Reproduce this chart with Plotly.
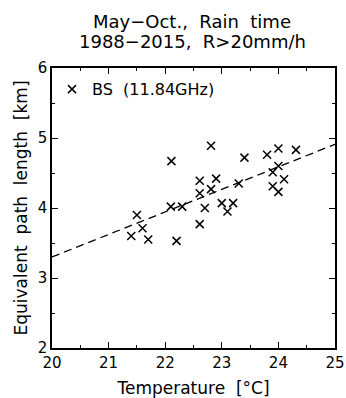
import plotly.graph_objects as go

# Data
temperature = [21.40, 21.50, 21.60, 21.70, 22.11, 22.10, 22.20, 22.30, 22.61, 22.61,
               22.61, 22.70, 22.81, 22.81, 22.90, 23.00, 23.10, 23.20, 23.30, 23.40,
               23.80, 23.90, 23.90, 24.00, 24.00, 24.00, 24.10, 24.31]
path_length = [3.60, 3.90, 3.71, 3.55, 4.67, 4.02, 3.53, 4.02, 4.39, 4.21,
               3.77, 4.00, 4.27, 4.89, 4.42, 4.07, 3.95, 4.07, 4.35, 4.72,
               4.76, 4.51, 4.31, 4.85, 4.60, 4.23, 4.41, 4.83]
fit_x = [20.0, 25.0]
fit_y = [3.30, 4.91]
x_ticks = [20, 21, 22, 23, 24, 25]
y_ticks = [2, 3, 4, 5, 6]
title_lines = ["May\u2212Oct.,\u00a0\u00a0Rain\u00a0\u00a0time", "1988\u22122015,\u00a0\u00a0R>20mm/h"]

FONT = "DejaVu Sans"

fig = go.Figure()
fig.add_trace(go.Scatter(
    x=fit_x, y=fit_y, mode="lines",
    line=dict(color="black", width=1.3, dash="8px,5px"),
    showlegend=False, hoverinfo="skip"))
fig.add_trace(go.Scatter(
    x=temperature, y=path_length, mode="markers", name="BS\u00a0\u00a0(11.84GHz)",
    marker=dict(symbol="x-thin", size=8, line=dict(color="black", width=1.5), color="black")))

axis_common = dict(
    showline=True, linecolor="black", linewidth=1.5, mirror="ticks",
    ticks="inside", ticklen=6, tickwidth=1.2, tickcolor="black",
    showgrid=False, zeroline=False, automargin=False,
    tickfont=dict(family=FONT, size=15, color="black"),
)

fig.update_xaxes(
    range=[20, 25], tickvals=x_ticks,
    minor=dict(ticks="inside", dtick=0.5, ticklen=3, tickwidth=1.2, tickcolor="black", showgrid=False),
    title=dict(text="Temperature\u00a0\u00a0[°C]", font=dict(family=FONT, size=17, color="black"), standoff=13),
    **axis_common)
fig.update_yaxes(
    range=[2, 6], tickvals=y_ticks,
    minor=dict(ticks="inside", dtick=0.5, ticklen=3, tickwidth=1.2, tickcolor="black", showgrid=False),
    title=dict(text="Equivalent\u00a0\u00a0path\u00a0\u00a0length\u00a0\u00a0[km]", font=dict(family=FONT, size=17, color="black"), standoff=6),
    **axis_common)

fig.update_layout(
    width=346, height=398,
    margin=dict(l=52, r=11, t=68, b=50),
    paper_bgcolor="white", plot_bgcolor="white",
    legend=dict(x=0, y=0.985, xanchor="left", yanchor="top", bgcolor="rgba(0,0,0,0)",
                font=dict(family=FONT, size=16, color="black")),
    showlegend=True,
    annotations=[
        dict(text=title_lines[0], xref="paper", yref="paper", x=0.495, y=1.165,
             xanchor="center", yanchor="middle", showarrow=False,
             font=dict(family=FONT, size=18, color="black")),
        dict(text=title_lines[1], xref="paper", yref="paper", x=0.495, y=1.094,
             xanchor="center", yanchor="middle", showarrow=False,
             font=dict(family=FONT, size=18, color="black")),
    ],
)

fig.write_html("out.html")
